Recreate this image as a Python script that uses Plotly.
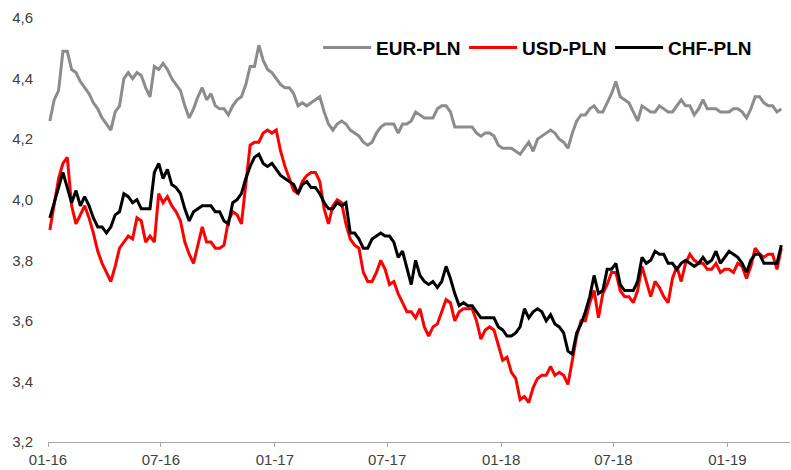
import pandas as pd
import plotly.graph_objects as go

# weekly readings, 2016-01-04 .. 2019-03-29
dates = pd.date_range("2016-01-04", "2019-03-29", periods=169)

eur_pln = [
    4.26, 4.33, 4.36, 4.49, 4.49, 4.43, 4.42, 4.39, 4.37, 4.35,
    4.32, 4.30, 4.27, 4.25, 4.23, 4.29, 4.31, 4.40, 4.42, 4.40,
    4.42, 4.41, 4.37, 4.34, 4.44, 4.43, 4.45, 4.43, 4.40, 4.38,
    4.36, 4.31, 4.27, 4.30, 4.34, 4.37, 4.33, 4.35, 4.31, 4.30,
    4.30, 4.28, 4.31, 4.33, 4.34, 4.38, 4.44, 4.44, 4.51, 4.46,
    4.43, 4.42, 4.40, 4.38, 4.37, 4.37, 4.35, 4.31, 4.32, 4.31,
    4.32, 4.33, 4.34, 4.29, 4.25, 4.23, 4.25, 4.26, 4.25, 4.23,
    4.22, 4.21, 4.19, 4.18, 4.19, 4.22, 4.24, 4.25, 4.25, 4.25,
    4.22, 4.25, 4.25, 4.26, 4.29, 4.28, 4.27, 4.27, 4.27, 4.30,
    4.31, 4.31, 4.29, 4.24, 4.24, 4.24, 4.24, 4.24, 4.22, 4.21,
    4.22, 4.22, 4.21, 4.18, 4.17, 4.17, 4.17, 4.16, 4.15, 4.17,
    4.19, 4.16, 4.20, 4.21, 4.22, 4.23, 4.22, 4.20, 4.19, 4.17,
    4.22, 4.26, 4.28, 4.28, 4.30, 4.31, 4.29, 4.29, 4.32, 4.35,
    4.39, 4.34, 4.33, 4.32, 4.29, 4.26, 4.31, 4.30, 4.29, 4.29,
    4.31, 4.30, 4.29, 4.29, 4.31, 4.33, 4.31, 4.31, 4.28, 4.30,
    4.33, 4.30, 4.30, 4.30, 4.29, 4.29, 4.29, 4.30, 4.30, 4.29,
    4.27, 4.30, 4.34, 4.34, 4.32, 4.31, 4.31, 4.29, 4.30,
]

usd_pln = [
    3.90, 3.98, 4.07, 4.12, 4.14, 3.98, 3.92, 3.95, 3.98, 3.94,
    3.89, 3.83, 3.79, 3.76, 3.73, 3.78, 3.84, 3.86, 3.88, 3.87,
    3.94, 3.93, 3.86, 3.88, 3.86, 4.02, 3.99, 4.01, 3.98, 3.96,
    3.93, 3.86, 3.82, 3.79, 3.85, 3.91, 3.86, 3.86, 3.84, 3.84,
    3.85, 3.93, 3.96, 3.95, 3.92, 4.06, 4.18, 4.19, 4.19, 4.22,
    4.23, 4.22, 4.23, 4.16, 4.11, 4.07, 4.03, 4.02, 4.06, 4.08,
    4.09, 4.09, 4.06, 3.97, 3.92, 3.98, 4.00, 3.99, 3.92, 3.87,
    3.85, 3.84, 3.76, 3.73, 3.73, 3.76, 3.80, 3.77, 3.72, 3.73,
    3.69, 3.66, 3.63, 3.63, 3.61, 3.64, 3.58, 3.55, 3.58, 3.59,
    3.63, 3.67, 3.66, 3.60, 3.63, 3.64, 3.64, 3.64, 3.60, 3.54,
    3.57, 3.58, 3.57, 3.52, 3.47, 3.48, 3.43, 3.41, 3.34, 3.35,
    3.33, 3.38, 3.41, 3.42, 3.42, 3.45, 3.42, 3.43, 3.42, 3.39,
    3.47, 3.55, 3.60, 3.60, 3.66, 3.70, 3.61, 3.69, 3.72, 3.76,
    3.76, 3.70, 3.68, 3.68, 3.66, 3.70, 3.78, 3.73, 3.68, 3.73,
    3.71, 3.68, 3.66, 3.74, 3.78, 3.73, 3.79, 3.82, 3.80, 3.79,
    3.79, 3.77, 3.77, 3.79, 3.76, 3.77, 3.77, 3.76, 3.79, 3.78,
    3.74, 3.78, 3.84, 3.82, 3.81, 3.82, 3.82, 3.77, 3.84,
]

chf_pln = [
    3.94, 3.99, 4.04, 4.09, 4.04, 3.99, 4.03, 3.98, 4.01, 3.98,
    3.94, 3.91, 3.91, 3.89, 3.91, 3.95, 3.96, 4.02, 4.01, 3.99,
    4.00, 3.97, 3.97, 3.97, 4.09, 4.12, 4.07, 4.10, 4.05, 4.04,
    4.02, 3.97, 3.93, 3.96, 3.97, 3.98, 3.98, 3.98, 3.96, 3.96,
    3.93, 3.92, 3.99, 4.00, 4.02, 4.07, 4.11, 4.14, 4.15, 4.12,
    4.11, 4.12, 4.10, 4.08, 4.07, 4.06, 4.05, 4.02, 4.05, 4.06,
    4.04, 4.04, 4.02, 3.99, 3.97, 3.97, 3.99, 3.98, 3.99, 3.89,
    3.89, 3.87, 3.84, 3.84, 3.87, 3.88, 3.89, 3.88, 3.88, 3.86,
    3.81, 3.83, 3.77, 3.72, 3.80, 3.75, 3.73, 3.72, 3.73, 3.71,
    3.73, 3.78, 3.74, 3.69, 3.65, 3.66, 3.65, 3.65, 3.63, 3.61,
    3.61, 3.61, 3.61, 3.58, 3.57, 3.55, 3.55, 3.56, 3.58, 3.64,
    3.61, 3.63, 3.64, 3.63, 3.60, 3.62, 3.59, 3.58, 3.56, 3.50,
    3.49, 3.56, 3.59, 3.63, 3.68, 3.75, 3.69, 3.70, 3.77, 3.77,
    3.79, 3.72, 3.70, 3.70, 3.70, 3.73, 3.81, 3.79, 3.80, 3.83,
    3.82, 3.82, 3.79, 3.79, 3.77, 3.79, 3.80, 3.79, 3.78, 3.79,
    3.81, 3.79, 3.80, 3.83, 3.79, 3.81, 3.83, 3.82, 3.81, 3.79,
    3.76, 3.80, 3.82, 3.82, 3.79, 3.79, 3.79, 3.79, 3.85,
]

x_tick_vals = ["2016-01-01", "2016-07-01", "2017-01-01", "2017-07-01",
               "2018-01-01", "2018-07-01", "2019-01-01"]
x_tick_text = ["01-16", "07-16", "01-17", "07-17", "01-18", "07-18", "01-19"]
y_tick_vals = [3.2, 3.4, 3.6, 3.8, 4.0, 4.2, 4.4, 4.6]
y_tick_text = ["3,2", "3,4", "3,6", "3,8", "4,0", "4,2", "4,4", "4,6"]

FONT = "Liberation Sans, Arial, sans-serif"

fig = go.Figure()
fig.add_trace(go.Scatter(x=dates, y=eur_pln, mode="lines", name="EUR-PLN",
                         line=dict(color="#8c8c8c", width=3)))
fig.add_trace(go.Scatter(x=dates, y=usd_pln, mode="lines", name="USD-PLN",
                         line=dict(color="#ff0000", width=3)))
fig.add_trace(go.Scatter(x=dates, y=chf_pln, mode="lines", name="CHF-PLN",
                         line=dict(color="#000000", width=3)))

fig.update_layout(
    width=791, height=470,
    margin=dict(l=48, r=1, t=18, b=28, autoexpand=False),
    paper_bgcolor="white", plot_bgcolor="white",
    font=dict(family=FONT, size=15, color="#404040"),
    legend=dict(orientation="h", x=0.364, xanchor="left", y=0.93, yanchor="middle",
                font=dict(family=FONT, size=19, color="#000000", weight="bold"),
                bgcolor="rgba(0,0,0,0)", itemwidth=48,
                entrywidth=83, entrywidthmode="pixels"),
    xaxis=dict(type="date", range=["2016-01-01", "2019-04-12"],
               tickvals=x_tick_vals, ticktext=x_tick_text,
               showgrid=False, zeroline=False, showline=True, linecolor="#a6a6a6",
               linewidth=1, ticks="outside", ticklen=4, tickcolor="#a6a6a6",
               automargin=False),
    yaxis=dict(range=[3.2, 4.6], tickvals=y_tick_vals, ticktext=y_tick_text,
               showgrid=False, zeroline=False, showline=False, ticks="",
               ticklabelstandoff=14, automargin=False),
)

fig.write_html("out.html", config={"displayModeBar": False},
               post_script="document.body.style.margin='0';")
